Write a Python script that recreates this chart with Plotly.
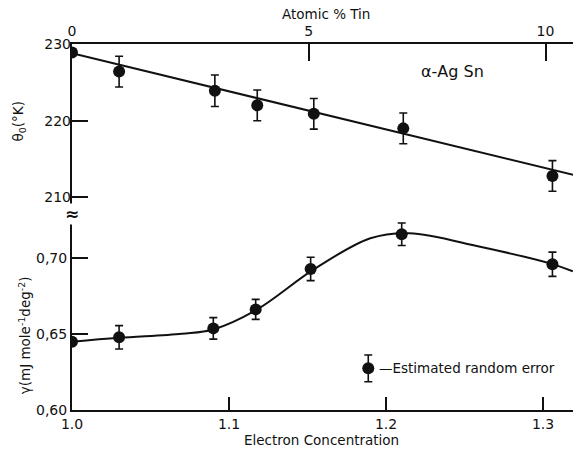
import plotly.graph_objects as go

# ---- data ----
# upper panel: Debye temperature theta_0 (K) vs electron concentration
theta_x = [1.000, 1.030, 1.091, 1.118, 1.154, 1.211, 1.306]
theta_y = [228.9, 226.4, 223.9, 222.0, 220.9, 219.0, 212.8]
theta_err = [0.0, 2.0, 2.05, 2.0, 2.0, 2.0, 2.0]
theta_fit_x = [1.000, 1.320]
theta_fit_y = [228.8, 212.9]

# lower panel: gamma (mJ mole^-1 deg^-2) vs electron concentration
gamma_x = [1.000, 1.030, 1.090, 1.117, 1.152, 1.210, 1.306]
gamma_y = [0.6449, 0.6478, 0.6537, 0.6662, 0.6928, 0.7156, 0.6959]
gamma_err = [0.0, 0.0077, 0.0071, 0.0066, 0.0077, 0.0074, 0.0080]
gamma_curve_x = [1.000, 1.030, 1.070, 1.090, 1.118, 1.154, 1.190, 1.215, 1.260, 1.306, 1.319]
gamma_curve_y = [0.6449, 0.6475, 0.6502, 0.6530, 0.6662, 0.6925, 0.7130, 0.7163, 0.7074, 0.6960, 0.6912]

# legend sample
legend_x = [1.1887]
legend_y = [0.6274]
legend_err = [0.0088]

x_ticks = [1.0, 1.1, 1.2, 1.3]
x_ticktext = ["1.0", "1.1", "1.2", "1.3"]
top_ticks = [0, 5, 10]
top_ticktext = ["0", "5", "10"]
theta_ticks = [210, 220, 230]
gamma_ticks = [0.60, 0.65, 0.70]
gamma_ticktext = ["0,60", "0,65", "0,70"]

FONT = "DejaVu Sans"
BLACK = "#111111"

fig = go.Figure()

# upper fit line
fig.add_trace(go.Scatter(x=theta_fit_x, y=theta_fit_y, xaxis="x", yaxis="y2",
                         mode="lines", line=dict(color=BLACK, width=2), hoverinfo="skip"))
# upper points
fig.add_trace(go.Scatter(x=theta_x, y=theta_y, xaxis="x", yaxis="y2", mode="markers",
                         marker=dict(color=BLACK, size=12),
                         error_y=dict(type="data", array=theta_err, color=BLACK,
                                      thickness=1.6, width=4)))
# lower curve
fig.add_trace(go.Scatter(x=gamma_curve_x, y=gamma_curve_y, xaxis="x", yaxis="y",
                         mode="lines", line=dict(color=BLACK, width=2, shape="spline", smoothing=1.0),
                         hoverinfo="skip"))
# lower points
fig.add_trace(go.Scatter(x=gamma_x, y=gamma_y, xaxis="x", yaxis="y", mode="markers",
                         marker=dict(color=BLACK, size=12),
                         error_y=dict(type="data", array=gamma_err, color=BLACK,
                                      thickness=1.6, width=4)))
# legend sample point
fig.add_trace(go.Scatter(x=legend_x, y=legend_y, xaxis="x", yaxis="y", mode="markers",
                         marker=dict(color=BLACK, size=12),
                         error_y=dict(type="data", array=legend_err, color=BLACK,
                                      thickness=1.6, width=4)))
# dummy trace for top axis
fig.add_trace(go.Scatter(x=[0, 10], y=[220, 220], xaxis="x2", yaxis="y2",
                         mode="markers", marker=dict(opacity=0), hoverinfo="skip"))

axis_font = dict(family=FONT, size=14, color=BLACK)

fig.update_layout(
    width=574, height=450,
    margin=dict(l=72, r=1, t=44, b=40),
    paper_bgcolor="white", plot_bgcolor="white",
    showlegend=False,
    xaxis=dict(range=[1.0, 1.3191], tickvals=x_ticks, ticktext=x_ticktext,
               ticks="inside", ticklen=13, tickwidth=1.5, tickcolor=BLACK,
               showline=True, linecolor=BLACK, linewidth=2, showgrid=False,
               zeroline=False, tickfont=axis_font, anchor="y"),
    xaxis2=dict(range=[0, 10.58], tickvals=top_ticks, ticktext=top_ticktext,
                overlaying="x", side="top", anchor="y2",
                ticks="inside", ticklen=17, tickwidth=1.5, tickcolor=BLACK,
                showline=True, linecolor=BLACK, linewidth=2, showgrid=False,
                zeroline=False, tickfont=axis_font),
    yaxis=dict(range=[0.60, 0.8408], tickvals=gamma_ticks, ticktext=gamma_ticktext,
               ticks="inside", ticklen=16, tickwidth=1.5, tickcolor=BLACK,
               showline=True, linecolor=BLACK, linewidth=2, showgrid=False,
               zeroline=False, tickfont=axis_font, anchor="x"),
    yaxis2=dict(range=[182.28, 230], tickvals=theta_ticks,
                overlaying="y", side="left", anchor="x",
                ticks="inside", ticklen=16, tickwidth=1.5, tickcolor=BLACK,
                showline=False, showgrid=False, zeroline=False, tickfont=axis_font),
)

ann_font = dict(family=FONT, size=13.5, color=BLACK)


def ann(text, x, y, font=ann_font, xanchor="center", **kw):
    fig.add_annotation(text=text, xref="paper", yref="paper", x=x, y=y,
                       xanchor=xanchor, yanchor="middle", showarrow=False,
                       font=font, **kw)


ann("Atomic % Tin", 0.507, 1.083)
ann("Electron Concentration", 0.499, -0.083)
ann("α-Ag Sn", 0.760, 0.926, font=dict(family=FONT, size=16, color=BLACK))
ann("θ<sub>0</sub>(°K)", -0.106, 0.788, textangle=-90)
ann("γ(mJ mole<sup>-1</sup>deg<sup>-2</sup>)", -0.094, 0.204, textangle=-90)
ann("—Estimated random error", 0.609, 0.114, xanchor="left")
ann("<b>≈</b>", 0.0, 0.536, font=dict(family=FONT, size=17, color=BLACK),
    bgcolor="white", borderpad=0)

fig.write_html("out.html")
